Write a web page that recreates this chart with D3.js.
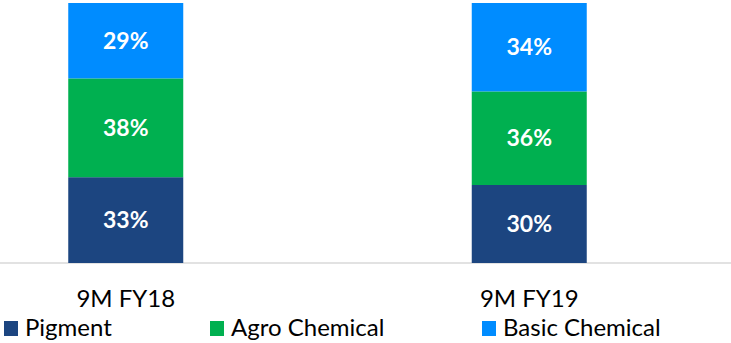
<html>
    <head>
        <script src="https://d3js.org/d3.v7.min.js"></script>
    </head>
    <style>
        body { margin: 0; background: #fff; }
        text { font-family: Lato, "Open Sans", sans-serif; }
    </style>
    <body>
        <script>
            // data
            var periods = ["9M FY18", "9M FY19"];
            var segments = ["Pigment", "Agro Chemical", "Basic Chemical"];
            var pigment = [33, 30];
            var agro = [38, 36];
            var basic = [29, 34];
            var colors = ["#1c4580", "#00b050", "#008cff"];

            var width = 731, height = 343;

            var svg = d3.select("body").append("svg")
                        .attr("width", width)
                        .attr("height", height);

            var rows = periods.map(function(p, i) {
                return {period: p, Pigment: pigment[i], "Agro Chemical": agro[i], "Basic Chemical": basic[i]};
            });
            var stacked = d3.stack().keys(segments)(rows);

            var x = d3.scaleBand().domain(periods)
                      .range([-76, 731])
                      .paddingInner(0.715).paddingOuter(0.3575);
            var y = d3.scaleLinear().domain([0, 100]).range([263, 3]);

            // axis line
            svg.append("line")
               .attr("x1", 0).attr("x2", width)
               .attr("y1", y(0)).attr("y2", y(0))
               .attr("stroke", "#d9d9d9").attr("stroke-width", 1.5);

            var layer = svg.selectAll(".layer").data(stacked).enter()
                           .append("g")
                           .attr("fill", function(d, i) { return colors[i]; });

            layer.selectAll("rect").data(function(d) { return d; }).enter()
                 .append("rect")
                 .attr("x", function(d) { return x(d.data.period); })
                 .attr("width", x.bandwidth())
                 .attr("y", function(d) { return y(d[1]); })
                 .attr("height", function(d) { return y(d[0]) - y(d[1]); });

            layer.selectAll("text").data(function(d) { return d; }).enter()
                 .append("text")
                 .attr("x", function(d) { return x(d.data.period) + x.bandwidth() / 2; })
                 .attr("y", function(d) { return (y(d[0]) + y(d[1])) / 2; })
                 .attr("dy", "0.36em")
                 .attr("text-anchor", "middle")
                 .style("fill", "#fff")
                 .style("font-weight", "bold")
                 .style("font-size", "23px")
                 .text(function(d) { return (d[1] - d[0]) + "%"; });

            // category labels
            svg.selectAll(".cat").data(periods).enter()
               .append("text")
               .attr("x", function(d) { return x(d) + x.bandwidth() / 2; })
               .attr("y", 307)
               .attr("text-anchor", "middle")
               .style("font-size", "24px")
               .style("fill", "#000")
               .text(function(d) { return d; });

            // legend
            var legendX = [4, 210, 482];
            var legend = svg.selectAll(".legend").data(segments).enter()
                            .append("g")
                            .attr("transform", function(d, i) { return "translate(" + legendX[i] + ",0)"; });
            legend.append("rect")
                  .attr("x", 0).attr("y", 321)
                  .attr("width", 14).attr("height", 15)
                  .attr("fill", function(d, i) { return colors[i]; });
            legend.append("text")
                  .attr("x", 21).attr("y", 336)
                  .style("font-size", "24px")
                  .style("fill", "#000")
                  .text(function(d) { return d; });
        </script>
    </body>
</html>
